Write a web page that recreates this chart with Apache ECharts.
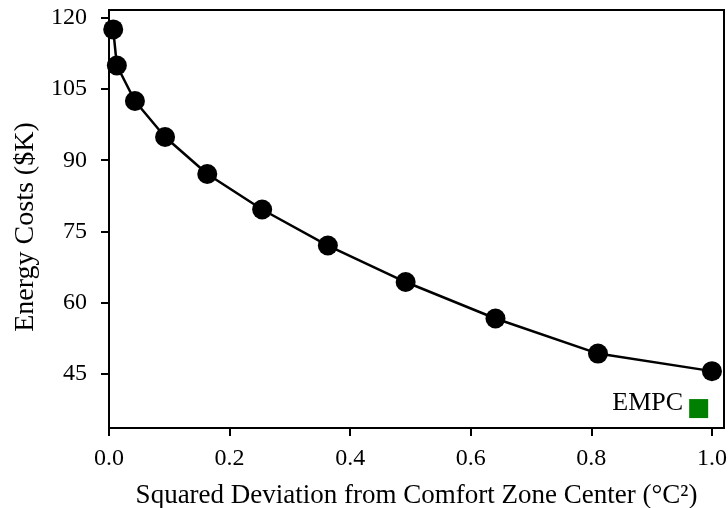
<!DOCTYPE html>
<html>
<head>
<meta charset="utf-8">
<script src="https://cdn.jsdelivr.net/npm/echarts@6/dist/echarts.min.js"></script>
<style>
  html, body { margin: 0; padding: 0; background: #fff; }
  #chart { width: 728px; height: 508px; }
</style>
</head>
<body>
<div id="chart"></div>
<script>
// Trade-off curve: comfort deviation vs. energy cost
const deviation = [0.007, 0.013, 0.043, 0.093, 0.163, 0.254, 0.363, 0.492, 0.641, 0.811, 1.0];
const energyCost = [117.6, 110.0, 102.5, 94.9, 87.1, 79.6, 72.0, 64.3, 56.6, 49.2, 45.5];

// Economic MPC reference point
const empcPoint = [0.978, 37.6];
const empcLabel = 'EMPC';

const xTicks = [0, 0.2, 0.4, 0.6, 0.8, 1.0];
const yTicks = [45, 60, 75, 90, 105, 120];

const FONT = 'Liberation Serif';

const chart = echarts.init(document.getElementById('chart'), null, { renderer: 'canvas' });

const curve = deviation.map((d, i) => [d, energyCost[i]]);

chart.setOption({
  animation: false,
  backgroundColor: '#fff',
  grid: {
    left: 109, right: 4, top: 10, bottom: 80,
    containLabel: false, outerBoundsMode: 'none',
    show: true, borderColor: '#000', borderWidth: 2, backgroundColor: 'transparent'
  },
  xAxis: {
    type: 'value',
    min: 0, max: 1.02,
    splitLine: { show: false },
    axisLine: { show: true, onZero: false, lineStyle: { color: '#000', width: 2 } },
    axisTick: { show: true, customValues: xTicks, length: 8, inside: false, lineStyle: { color: '#000', width: 2 } },
    axisLabel: {
      customValues: xTicks, margin: 19,
      color: '#000', fontFamily: FONT, fontSize: 24,
      formatter: v => v.toFixed(1)
    },
    name: 'Squared Deviation from Comfort Zone Center (°C²)',
    nameLocation: 'middle', nameGap: 54,
    nameTextStyle: { color: '#000', fontFamily: FONT, fontSize: 27 }
  },
  yAxis: {
    type: 'value',
    min: 33.5, max: 121.7,
    splitLine: { show: false },
    axisLine: { show: true, onZero: false, lineStyle: { color: '#000', width: 2 } },
    axisTick: { show: true, customValues: yTicks, length: 8, inside: false, lineStyle: { color: '#000', width: 2 } },
    axisLabel: {
      customValues: yTicks, margin: 22,
      color: '#000', fontFamily: FONT, fontSize: 24
    },
    name: 'Energy Costs ($K)',
    nameLocation: 'middle', nameGap: 66,
    nameTextStyle: { color: '#000', fontFamily: FONT, fontSize: 28, padding: [0, 16, 0, 0] }
  },
  series: [
    {
      type: 'line',
      data: curve,
      symbol: 'circle',
      symbolSize: 20,
      itemStyle: { color: '#000' },
      lineStyle: { color: '#000', width: 2.5 },
      clip: false
    },
    {
      type: 'scatter',
      data: [empcPoint],
      symbol: 'rect',
      symbolSize: 19,
      itemStyle: { color: '#008000', opacity: 1 },
      label: {
        show: true, position: 'left', distance: 6, offset: [0, -5],
        formatter: empcLabel,
        color: '#000', fontFamily: FONT, fontSize: 26
      }
    }
  ]
});
</script>
</body>
</html>
